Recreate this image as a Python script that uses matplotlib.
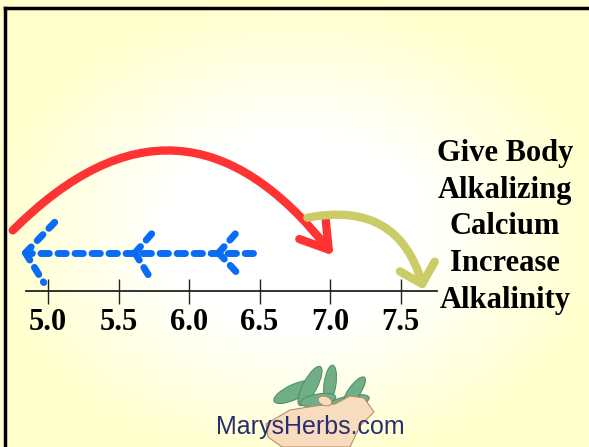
import numpy as np
import matplotlib
matplotlib.use("Agg")
import matplotlib.pyplot as plt
from matplotlib.patches import FancyArrowPatch, Ellipse, Polygon
from matplotlib.lines import Line2D

# number line (pH)
ticks = [5.0, 5.5, 6.0, 6.5, 7.0, 7.5]
tick_labels = ["5.0", "5.5", "6.0", "6.5", "7.0", "7.5"]
line_start, line_end = 4.844, 7.76

# red arc: start/end (pH, height above the line)
red_start = (4.75, 0.43)
red_end = (7.025, 0.25)
# yellow arc
yel_start = (6.84, 0.52)
yel_end = (7.665, 0.01)
# blue dashed arrow going left
blue_y = 0.27
blue_from, blue_to = 6.454, 4.85
chev_tip_x = [4.84, 5.617, 6.21]
chev_up_end = [(5.05, 0.49), (5.765, 0.44), (6.35, 0.43)]
chev_dn_end = [(4.97, 0.06), (5.72, 0.10), (6.34, 0.13)]

side_text = "Give Body\nAlkalizing\nCalcium\nIncrease\nAlkalinity"
logo_text = "MarysHerbs.com"

W, H = 589, 447
ppu = 141.0          # pixels per pH unit
x0 = 5.0 - 48 / ppu  # pH at left edge
y0 = 291 / ppu       # height at top edge

fig = plt.figure(figsize=(W / 100, H / 100), dpi=100)
ax = fig.add_axes([0, 0, 1, 1])
ax.set_xlim(x0, x0 + W / ppu)
ax.set_ylim(y0 - H / ppu, y0)


def px(x, y):
    # picture pixel -> data position (used for the logo only)
    return (x0 + x / ppu, y0 - y / ppu)


# cream background with a white glow in the middle
gx, gy = np.meshgrid(np.linspace(0, 1, W), np.linspace(0, 1, H))
t = np.sqrt(((gx - 0.5) / 0.62) ** 2 + ((gy - 0.52) / 0.62) ** 2)
s = np.clip((t - 0.35) / 0.5, 0, 1)[..., None]
cream = np.array([1.0, 1.0, 0.80])
bg = (1 - s) * np.ones(3) + s * cream
ax.imshow(bg, extent=(x0, x0 + W / ppu, y0 - H / ppu, y0), aspect="auto", zorder=0)

# frame: black line left and top
fig.add_artist(Line2D([5 / W, 5 / W], [0, 1 - 8 / H], color="black", lw=2.5))
fig.add_artist(Line2D([5 / W, 1], [1 - 8 / H, 1 - 8 / H], color="black", lw=2.5))

# the number line itself
for sp in ["left", "right", "top"]:
    ax.spines[sp].set_visible(False)
ax.spines["bottom"].set_position(("data", 0))
ax.spines["bottom"].set_bounds(line_start, line_end)
ax.spines["bottom"].set_color("#222222")
ax.spines["bottom"].set_linewidth(1.3)
ax.spines["bottom"].set_zorder(2)
ax.set_yticks([])
ax.set_xticks(ticks, labels=tick_labels, fontsize=22, fontweight="bold",
              family="Liberation Serif")
ax.tick_params(axis="x", direction="inout", length=18, width=1, color="#222222",
               pad=3)

# red arc
red = FancyArrowPatch(red_start, red_end,
                      connectionstyle="angle3,angleA=45,angleB=128",
                      arrowstyle="->,head_length=19,head_width=12",
                      mutation_scale=1, color="#FF3333", lw=6,
                      shrinkA=0, shrinkB=0, capstyle="round", joinstyle="round",
                      zorder=4)
ax.add_patch(red)

# yellow arc
yel = FancyArrowPatch(yel_start, yel_end, connectionstyle="arc3,rad=-0.46",
                      arrowstyle="->,head_length=13,head_width=13",
                      mutation_scale=1, color="#CCCC66", lw=6,
                      shrinkA=0, shrinkB=0, capstyle="round", joinstyle="round",
                      zorder=4)
ax.add_patch(yel)

# blue dashed arrow with chevrons
blue = "#0A6CF5"
dash = dict(color=blue, lw=5, linestyle=(0, (1.2, 1.25)), dash_capstyle="round",
            solid_capstyle="round", zorder=3)
ax.plot([blue_from, blue_to], [blue_y, blue_y], **dash)
for tx, up, dn in zip(chev_tip_x, chev_up_end, chev_dn_end):
    ax.plot([tx, up[0]], [blue_y, up[1]], **dash)
    ax.plot([tx, dn[0]], [blue_y, dn[1]], **dash)

# text on the right
ax.text(5.0 + (505 - 48) / ppu, (291 - 227) / ppu, side_text,
        ha="center", va="center", multialignment="center", fontsize=22,
        fontweight="bold", family="Liberation Serif", linespacing=1.36, zorder=5)

# little logo: hand holding leaves
leaves = [((294, 392), 44, 15, 25), ((310, 386), 44, 14, 62),
          ((330, 384), 38, 12, 82), ((345, 404), 50, 14, 15),
          ((354, 392), 36, 12, 55), ((318, 400), 36, 12, 10)]
for c, w, h, a in leaves:
    ax.add_patch(Ellipse(px(*c), w / ppu, h / ppu, angle=a, fc="#6FAE86",
                         ec="#4E8B66", lw=0.7, zorder=3))
hand = [(266, 424), (290, 410), (315, 406), (335, 404), (350, 396), (364, 398),
        (374, 412), (360, 426), (350, 447), (282, 447), (268, 437)]
ax.add_patch(Polygon([px(*p) for p in hand], closed=True, fc="#F7DCBD",
                     ec="#B98E68", lw=0.8, zorder=3.5))
ax.add_patch(Ellipse(px(325, 401), 14 / ppu, 9 / ppu, angle=-20, fc="#F7DCBD",
                     ec="#B98E68", lw=0.7, zorder=3.6))

ax.text(*px(310, 427), logo_text, ha="center", va="center", fontsize=18,
        family="Liberation Sans", color="#2B2E6E", zorder=5)

fig.savefig("out.png", dpi=100)
